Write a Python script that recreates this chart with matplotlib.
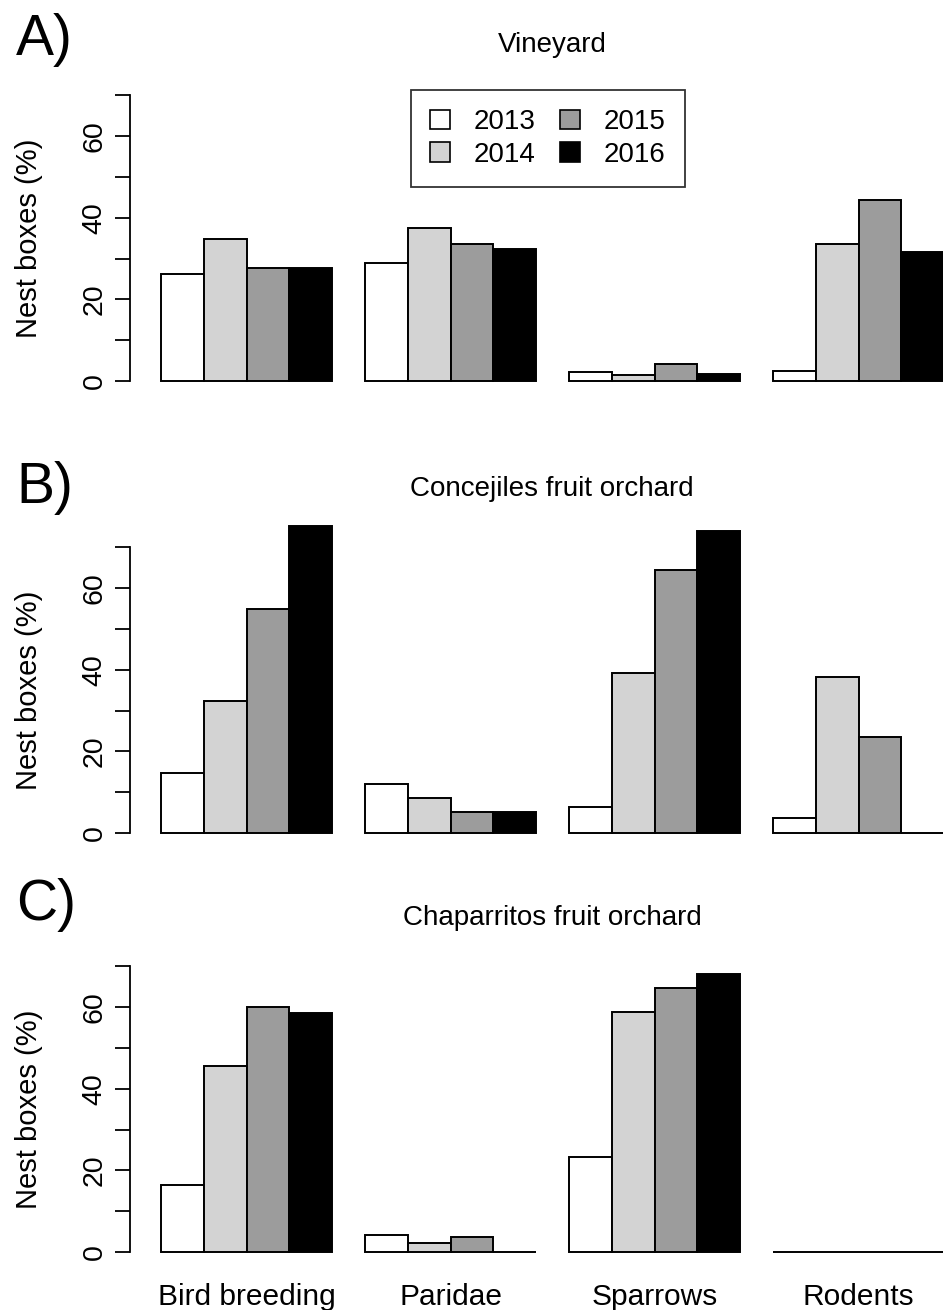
import numpy as np
import matplotlib
matplotlib.use("Agg")
from matplotlib import pyplot as plt
from matplotlib.patches import Patch

plt.rcParams['font.family'] = ['Liberation Sans', 'DejaVu Sans']

groups = ["Bird breeding", "Paridae", "Sparrows", "Rodents"]
years = ["2013", "2014", "2015", "2016"]
colours = ["white", "#d3d3d3", "#9c9c9c", "black"]

titles = ["Vineyard", "Concejiles fruit orchard", "Chaparritos fruit orchard"]
letters = ["A)", "B)", "C)"]

# one row per group, one column per year (% of nest boxes)
vineyard = [[26.3, 34.8, 27.7, 27.6],
            [28.9, 37.6, 33.7, 32.3],
            [2.1, 1.5, 4.1, 1.6],
            [2.5, 33.7, 44.3, 31.7]]

concejiles = [[14.7, 32.3, 54.8, 75.2],
              [11.9, 8.7, 5.2, 5.2],
              [6.4, 39.1, 64.5, 74.1],
              [3.6, 38.2, 23.6, 0.0]]

chaparritos = [[16.3, 45.5, 60.0, 58.5],
               [4.1, 2.1, 3.6, 0.0],
               [23.4, 58.9, 64.8, 68.2],
               [0.0, 0.0, 0.0, 0.0]]

panels = [vineyard, concejiles, chaparritos]

# layout, in pixels of the 943x1310 picture
W, H = 943, 1310
zero_px = [381, 833, 1252]      # where y = 0 sits in each panel
title_px = [45, 489, 918]
letter_px = [40, 488, 905]
scale = 4.08                    # pixels per percent
x_axis = 130                    # pixel of the y axis line
first_bar = 161
bar_px = 42.8
group_step = 204 / bar_px       # group spacing in bar widths

fig = plt.figure(figsize=(W / 100, H / 100), dpi=100)

for p, data in enumerate(panels):
    y0 = zero_px[p]
    lo, hi = -1.5, 78
    bottom = 1 - (y0 - lo * scale) / H
    height = (hi - lo) * scale / H
    ax = fig.add_axes([x_axis / W, bottom, 1 - x_axis / W, height])
    ax.patch.set_visible(False)

    data = np.array(data)
    for j in range(len(years)):
        xs = np.arange(len(groups)) * group_step + j
        ax.bar(xs, data[:, j], width=1, align='edge', color=colours[j],
               edgecolor='black', linewidth=1.4, zorder=2)

    left = -(first_bar - x_axis) / bar_px
    ax.set_xlim(left, left + (W - x_axis) / bar_px)
    ax.set_ylim(lo, hi)

    for s in ['top', 'right', 'bottom']:
        ax.spines[s].set_visible(False)
    ax.spines['left'].set_bounds(0, 70)
    ax.spines['left'].set_linewidth(1.3)
    ax.set_yticks(np.arange(0, 71, 10))
    ax.set_yticklabels(["0", "", "20", "", "40", "", "60", ""])
    ax.tick_params(axis='y', length=11, width=1.3, labelsize=20.5,
                   labelrotation=90, pad=5)
    for lab in ax.get_yticklabels():
        lab.set_va('center')

    if p == 2:
        ax.set_xticks(np.arange(len(groups)) * group_step + 2)
        ax.set_xticklabels(groups, fontsize=21.5)
        ax.tick_params(axis='x', length=0, pad=18)
    else:
        ax.set_xticks([])

    fig.text(29 / W, 1 - (y0 - 35 * scale) / H, "Nest boxes (%)",
             rotation=90, ha='center', va='center', fontsize=21)
    fig.text(552 / W, 1 - title_px[p] / H, titles[p],
             ha='center', va='center', fontsize=20)
    fig.text(16 / W, 1 - letter_px[p] / H, letters[p],
             ha='left', va='center', fontsize=41)

    if p == 0:
        handles = [Patch(facecolor=c, edgecolor='black', linewidth=1.2)
                   for c in colours]
        leg = ax.legend(handles, years, ncol=2, fontsize=20,
                        loc='upper left',
                        bbox_to_anchor=(411 / W, 1 - 90 / H),
                        bbox_transform=fig.transFigure,
                        frameon=True, fancybox=False, edgecolor='black',
                        handlelength=0.7, handleheight=0.7,
                        handletextpad=0.85, columnspacing=0.9,
                        labelspacing=0.22, borderpad=0.7, borderaxespad=0)
        leg.get_frame().set_linewidth(1.3)

fig.savefig("out.png", dpi=100)
